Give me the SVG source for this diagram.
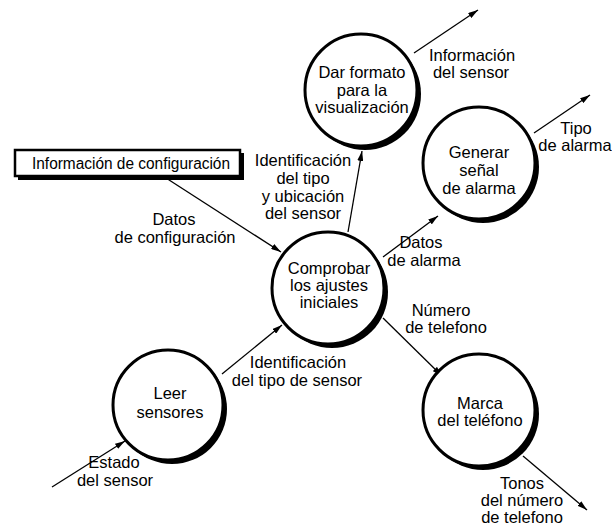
<svg xmlns="http://www.w3.org/2000/svg" width="612" height="528" viewBox="0 0 612 528">
  <style>
    .bubble { fill: #fff; stroke: #000; stroke-width: 3; }
    .shade { fill: #000; }
    .flow { fill: none; stroke: #000; stroke-width: 1.3; marker-end: url(#head); }
    text { font-family: "Liberation Sans", Arial, sans-serif; font-size: 16.5px; fill: #000; text-anchor: middle; }
    .store { font-size: 16px; }
  </style>
  <defs>
    <marker id="head" viewBox="0 0 10 6" refX="10" refY="3" markerWidth="10" markerHeight="6" markerUnits="userSpaceOnUse" orient="auto">
      <path d="M0,0 L10,3 L0,6 Z" fill="#000"/>
    </marker>
  </defs>
  <rect width="612" height="528" fill="#fff"/>

  <!-- data flows -->
  <g id="connectors">
    <line class="flow" x1="414" y1="53" x2="478" y2="10"/>
    <line class="flow" x1="534" y1="133" x2="590" y2="95"/>
    <line class="flow" x1="348" y1="232" x2="362" y2="151"/>
    <line class="flow" x1="166" y1="178" x2="281" y2="252"/>
    <line class="flow" x1="383" y1="257" x2="438" y2="216"/>
    <line class="flow" x1="383" y1="318" x2="442" y2="376"/>
    <line class="flow" x1="523" y1="456" x2="587" y2="510"/>
    <line class="flow" x1="222" y1="374" x2="282" y2="325"/>
    <line class="flow" x1="52" y1="487" x2="125" y2="441"/>
  </g>

  <!-- flow labels -->
  <g id="labels">
    <text x="472" y="61">Información</text>
    <text x="471" y="78">del sensor</text>
    <text x="576" y="134">Tipo</text>
    <text x="575" y="151">de alarma</text>
    <text x="303" y="166">Identificación</text>
    <text x="303" y="184">del tipo</text>
    <text x="303" y="202">y ubicación</text>
    <text x="303" y="219">del sensor</text>
    <text x="174" y="225">Datos</text>
    <text x="175" y="243">de configuración</text>
    <text x="421" y="248">Datos</text>
    <text x="424" y="266">de alarma</text>
    <text x="441" y="316">Número</text>
    <text x="446" y="333">de telefono</text>
    <text x="298" y="368">Identificación</text>
    <text x="297" y="386">del tipo de sensor</text>
    <text x="114" y="468">Estado</text>
    <text x="115" y="486">del sensor</text>
    <text x="522" y="489">Tonos</text>
    <text x="522" y="506">del número</text>
    <text x="522" y="523">de telefono</text>
  </g>

  <!-- external entity -->
  <g id="config-store">
    <rect class="shade" x="18" y="153" width="226" height="27"/>
    <rect x="15" y="150" width="225" height="26" fill="#fff" stroke="#000" stroke-width="2.5"/>
    <text class="store" x="131" y="169" textLength="198" lengthAdjust="spacingAndGlyphs">Información de configuración</text>
  </g>

  <!-- processes -->
  <g id="format-display">
    <circle class="shade" cx="365" cy="94" r="56"/>
    <circle class="bubble" cx="361" cy="90" r="56"/>
    <text x="362" y="78">Dar formato</text>
    <text x="362" y="96">para la</text>
    <text x="362" y="113">visualización</text>
  </g>

  <g id="alarm-signal">
    <circle class="shade" cx="483" cy="167" r="56"/>
    <circle class="bubble" cx="479" cy="163" r="56"/>
    <text x="479" y="158">Generar</text>
    <text x="479" y="176">señal</text>
    <text x="479" y="194">de alarma</text>
  </g>

  <g id="check-settings">
    <circle class="shade" cx="332" cy="292" r="56"/>
    <circle class="bubble" cx="328" cy="288" r="56"/>
    <text x="329" y="274">Comprobar</text>
    <text x="329" y="291">los ajustes</text>
    <text x="329" y="308">iniciales</text>
  </g>

  <g id="read-sensors">
    <circle class="shade" cx="172" cy="409" r="55"/>
    <circle class="bubble" cx="168" cy="405" r="55"/>
    <text x="170" y="399">Leer</text>
    <text x="170" y="418">sensores</text>
  </g>

  <g id="dial-phone">
    <circle class="shade" cx="483" cy="414" r="56"/>
    <circle class="bubble" cx="479" cy="410" r="56"/>
    <text x="480" y="409">Marca</text>
    <text x="480" y="426">del teléfono</text>
  </g>
</svg>
